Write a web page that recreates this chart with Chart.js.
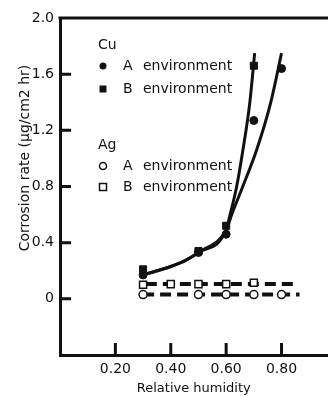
<!DOCTYPE html>
<html>
<head>
<meta charset="utf-8">
<script src="https://cdn.jsdelivr.net/npm/chart.js@4"></script>
<style>
  html, body { margin: 0; padding: 0; background: #fff; overflow: hidden; }
  /* canvas is 6px wider than the window: Chart.js keeps a 6px right gap */
  #wrap { position: absolute; left: 0; top: 0; width: 334px; height: 396px; }
</style>
</head>
<body>
<div id="wrap"><canvas id="corrosionChart"></canvas></div>
<script>
// tick values
const xTicks = [0.2, 0.4, 0.6, 0.8];
const yTicks = [0, 0.4, 0.8, 1.2, 1.6, 2.0];

// Cu measured points
const cuAx = [0.3, 0.5, 0.6, 0.7, 0.8];
const cuAy = [0.17, 0.33, 0.46, 1.27, 1.64];
const cuBx = [0.3, 0.5, 0.6, 0.7];
const cuBy = [0.21, 0.34, 0.52, 1.66];

// Cu fitted curves
const cuAfitX = [0.3, 0.4, 0.45, 0.5, 0.6, 0.62, 0.66, 0.71, 0.76, 0.8];
const cuAfitY = [0.17, 0.23, 0.27, 0.33, 0.49, 0.6, 0.8, 1.06, 1.39, 1.75];
const cuBfitX = [0.3, 0.4, 0.45, 0.5, 0.6, 0.613, 0.638, 0.659, 0.685, 0.703];
const cuBfitY = [0.17, 0.23, 0.27, 0.33, 0.49, 0.59, 0.8, 1.04, 1.39, 1.75];

// Ag measured points
const agAx = [0.3, 0.5, 0.6, 0.7, 0.8];
const agAy = [0.03, 0.03, 0.03, 0.03, 0.03];
const agBx = [0.3, 0.4, 0.5, 0.6, 0.7];
const agBy = [0.1, 0.105, 0.105, 0.105, 0.115];

// Ag dashed lines
const agAlineX = [0.3, 0.865];
const agAlineY = [0.03, 0.03];
const agBlineX = [0.31, 0.85];
const agBlineY = [0.105, 0.105];

const ink = "#111";
const FONT = "'DejaVu Sans', sans-serif";

function pts(xs, ys) {
    return xs.map((x, i) => ({ x: x, y: ys[i] }));
}

// inward tick marks, top frame line and the in-plot key
const decor = {
    id: "decor",
    afterDraw(chart) {
        const c = chart.ctx;
        const a = chart.chartArea;
        const xs = chart.scales.x;
        const ys = chart.scales.y;
        c.save();
        c.strokeStyle = ink;
        c.lineWidth = 3;
        c.beginPath();
        xTicks.forEach(v => {
            const px = xs.getPixelForValue(v);
            c.moveTo(px, a.bottom);
            c.lineTo(px, a.bottom - 12);
        });
        yTicks.forEach(v => {
            const py = ys.getPixelForValue(v);
            c.moveTo(a.left, py);
            c.lineTo(a.left + 11, py);
        });
        c.moveTo(a.left - 1.5, a.top);
        c.lineTo(chart.width, a.top);
        c.stroke();

        // y title
        c.fillStyle = ink;
        c.font = "14px " + FONT;
        c.textAlign = "center";
        c.textBaseline = "middle";
        c.save();
        c.translate(25, 158);
        c.rotate(-Math.PI / 2);
        c.fillText("Corrosion rate (\u00b5g/cm2 hr)", 0, 0);
        c.restore();

        // key
        c.textAlign = "left";
        c.fillText("Cu", 98, 45);
        c.fillText("Ag", 98, 145);
        const rows = [
            { y: 66, t: "A", shape: "circle", fill: true },
            { y: 89, t: "B", shape: "rect", fill: true },
            { y: 166, t: "A", shape: "circle", fill: false },
            { y: 187, t: "B", shape: "rect", fill: false }
        ];
        rows.forEach(r => {
            c.fillStyle = ink;
            c.fillText(r.t, 123, r.y);
            c.fillText("environment", 143, r.y);
            c.beginPath();
            if (r.shape === "circle") {
                c.arc(103, r.y, 3.5, 0, Math.PI * 2);
            } else {
                c.rect(99.5, r.y - 3.5, 7, 7);
            }
            if (r.fill) {
                c.fill();
            } else {
                c.lineWidth = 1.5;
                c.fillStyle = "#fff";
                c.fill();
                c.stroke();
            }
        });
        c.restore();
    }
};

new Chart(document.getElementById("corrosionChart"), {
    type: "scatter",
    data: {
        datasets: [
            {
                label: "Cu A fit",
                data: pts(cuAfitX, cuAfitY),
                showLine: true,
                borderColor: ink,
                borderWidth: 3,
                pointRadius: 0,
                cubicInterpolationMode: "monotone",
                order: 2
            },
            {
                label: "Cu B fit",
                data: pts(cuBfitX, cuBfitY),
                showLine: true,
                borderColor: ink,
                borderWidth: 3,
                pointRadius: 0,
                cubicInterpolationMode: "monotone",
                order: 2
            },
            {
                label: "Ag A line",
                data: pts(agAlineX, agAlineY),
                showLine: true,
                borderColor: ink,
                borderWidth: 4,
                borderDash: [11, 6],
                pointRadius: 0,
                order: 2
            },
            {
                label: "Ag B line",
                data: pts(agBlineX, agBlineY),
                showLine: true,
                borderColor: ink,
                borderWidth: 4,
                borderDash: [11, 6],
                pointRadius: 0,
                order: 2
            },
            {
                label: "Cu A",
                data: pts(cuAx, cuAy),
                pointStyle: "circle",
                pointRadius: 4,
                backgroundColor: ink,
                borderColor: ink,
                order: 1
            },
            {
                label: "Cu B",
                data: pts(cuBx, cuBy),
                pointStyle: "rect",
                pointRadius: 5,
                backgroundColor: ink,
                borderColor: ink,
                order: 1
            },
            {
                label: "Ag A",
                data: pts(agAx, agAy),
                pointStyle: "circle",
                pointRadius: 4,
                backgroundColor: "#fff",
                borderColor: ink,
                borderWidth: 1.5,
                order: 1
            },
            {
                label: "Ag B",
                data: pts(agBx, agBy),
                pointStyle: "rect",
                pointRadius: 5,
                backgroundColor: "#fff",
                borderColor: ink,
                borderWidth: 1.5,
                order: 1
            }
        ]
    },
    options: {
        responsive: true,
        maintainAspectRatio: false,
        animation: false,
        layout: { padding: { top: 18, right: 0, bottom: 0, left: 0 } },
        plugins: {
            legend: { display: false },
            tooltip: { enabled: false }
        },
        scales: {
            x: {
                type: "linear",
                min: 0,
                max: 0.966,
                afterBuildTicks: s => { s.ticks = xTicks.map(v => ({ value: v })); },
                afterFit: s => { s.height = 41; },
                grid: { display: false, drawTicks: false },
                border: { display: true, color: ink, width: 3 },
                ticks: {
                    color: ink,
                    padding: 6,
                    font: { family: FONT, size: 14 },
                    callback: v => v.toFixed(2)
                },
                title: {
                    display: true,
                    text: "Relative humidity",
                    color: ink,
                    font: { family: FONT, size: 13 },
                    padding: { top: 0, bottom: 0 }
                }
            },
            y: {
                min: -0.4,
                max: 2.0,
                afterBuildTicks: s => { s.ticks = yTicks.map(v => ({ value: v })); },
                afterFit: s => { s.width = 60; },
                grid: { display: false, drawTicks: false },
                border: { display: true, color: ink, width: 3 },
                ticks: {
                    color: ink,
                    padding: 6,
                    font: { family: FONT, size: 14 },
                    callback: v => (v === 0 ? "0" : v.toFixed(1))
                }
            }
        }
    },
    plugins: [decor]
});
</script>
</body>
</html>
